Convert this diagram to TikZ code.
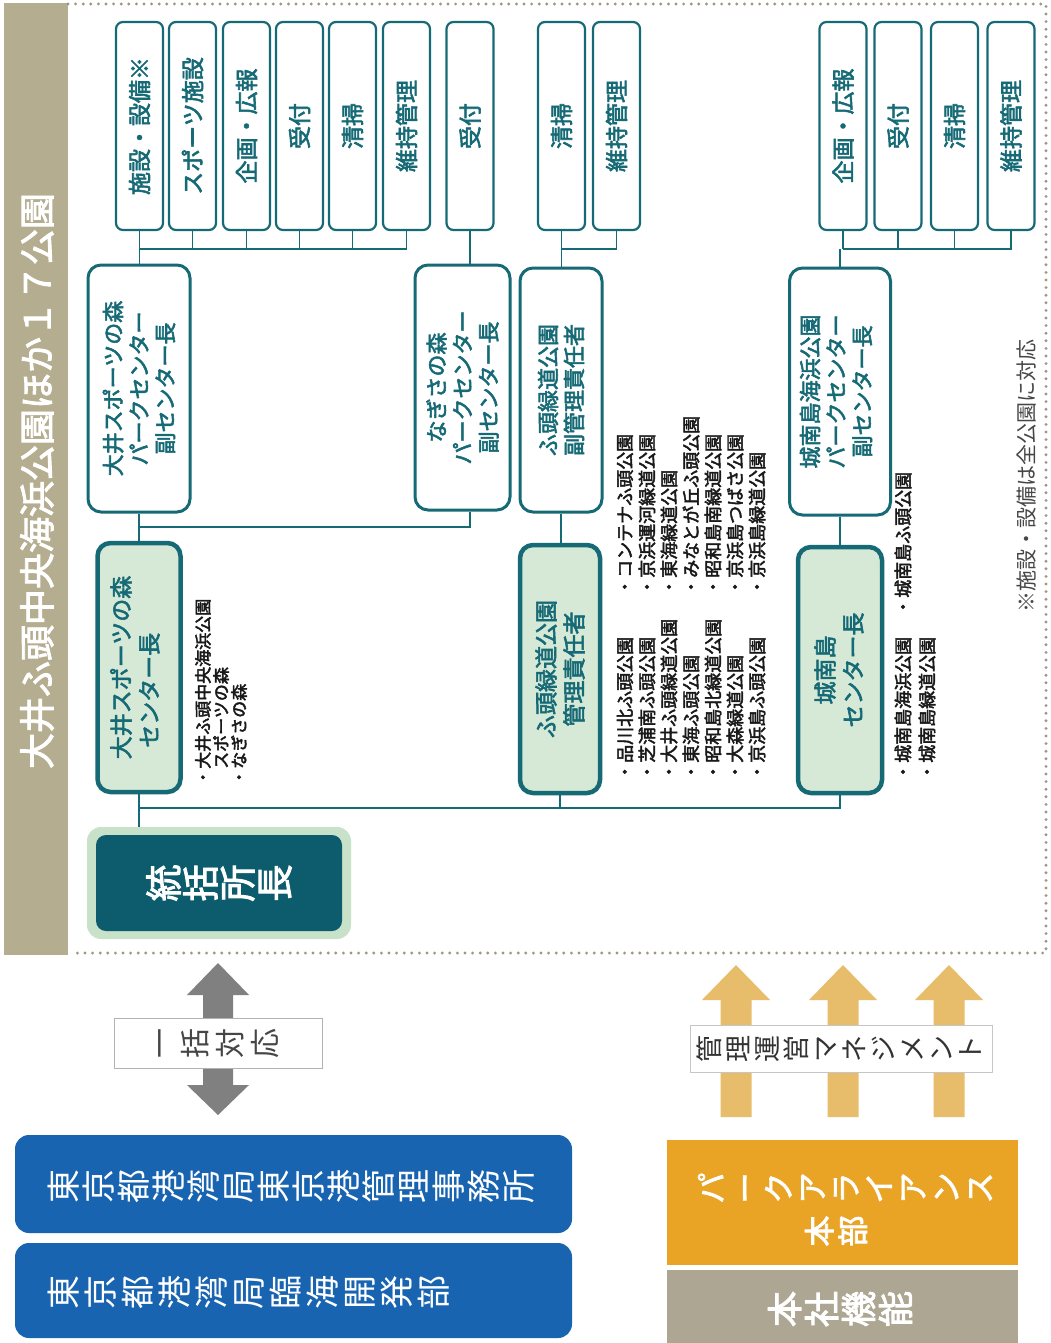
\documentclass[tikz,border=0pt]{standalone}
\usepackage{fontspec}
\setmainfont{Noto Sans CJK JP}[AutoFakeBold=2.5]
\usetikzlibrary{backgrounds}
\definecolor{tealc}{RGB}{22,106,118}
\definecolor{greenc}{RGB}{214,233,215}
\definecolor{darkt}{RGB}{12,92,110}
\definecolor{glowc}{RGB}{200,226,202}
\definecolor{bandc}{RGB}{181,173,144}
\definecolor{dotc}{RGB}{158,150,128}
\definecolor{bluec}{RGB}{24,100,176}
\definecolor{orangec}{RGB}{233,164,38}
\definecolor{arrowc}{RGB}{231,189,108}
\definecolor{grayboxc}{RGB}{172,166,146}
\definecolor{grayarr}{RGB}{128,128,128}
\definecolor{notec}{RGB}{70,70,70}
\newcommand\fsz[2]{\fontsize{#1}{#2}\selectfont}
\begin{document}
\begin{tikzpicture}[x=1pt,y=-1pt,
  topbox/.style={draw=tealc, line width=2.2pt, fill=white, rounded corners=7pt, minimum width=47pt, minimum height=208pt, inner sep=0pt},
  midbox/.style={draw=tealc, line width=3pt, fill=white, rounded corners=13pt, inner sep=0pt},
  greenbox/.style={draw=tealc, line width=4.5pt, fill=greenc, rounded corners=13pt, inner sep=0pt},
  toplbl/.style={rotate=90, text=tealc, font=\bfseries\fsz{23}{26}, align=center, inner sep=0pt},
  boxlbl/.style={rotate=90, text=tealc, font=\bfseries\fsz{22}{26}, align=center, inner sep=0pt},
  greenlbl/.style={rotate=90, text=tealc, font=\bfseries\fsz{23}{28}, align=center, inner sep=0pt},
  link/.style={draw=tealc, line width=1.8pt},
  listline/.style={rotate=90, anchor=west, inner sep=0pt, font=\bfseries\fsz{18}{18}, text=black!90},
  vst/.style={rotate=90, align=center, inner sep=0pt},
  dotline/.style={draw=dotc, line width=3.2pt, line cap=round, dash pattern=on 0pt off 7.6pt},
]
\useasboundingbox (0,0) rectangle (1050,1343);

% ---- top frame
\fill[bandc] (4,3) rectangle (68,955);
\node[rotate=90, inner sep=0pt, text=white, font=\bfseries\fsz{36}{40}] (title) at (37,481) {大井ふ頭中央海浜公園ほか１７公園};

% ---- row 1
\foreach \nm/\x/\t in {t1/139.5/施設・設備※, t2/192.5/スポーツ施設, t3/246.5/企画・広報, t4/299.5/受付, t5/352.5/清掃, t6/406.5/維持管理, t7/470/受付, t8/561.5/清掃, t9/616.5/維持管理, t10/843/企画・広報, t11/898/受付, t12/954.5/清掃, t13/1011/維持管理}{
  \node[topbox] (\nm) at (\x,126) {};
  \node[toplbl] (\nm-lbl) at (\nm) {\t};
}

% ---- row 2
\node[midbox, minimum width=102pt, minimum height=247pt] (A) at (139,388.5) {};
\node[boxlbl] (A-lbl) at (A) {大井スポーツの森\\パークセンター\\副センター長};
\node[midbox, minimum width=95pt, minimum height=245pt] (B) at (462.5,387.5) {};
\node[boxlbl] (B-lbl) at (B) {なぎさの森\\パークセンター\\副センター長};
\node[midbox, minimum width=82pt, minimum height=244pt] (C) at (561,390) {};
\node[boxlbl] (C-lbl) at (C) {ふ頭緑道公園\\副管理責任者};
\node[midbox, minimum width=101pt, minimum height=247pt] (D) at (840,391.5) {};
\node[boxlbl] (D-lbl) at ([xshift=-4pt]D.center) {城南島海浜公園\\パークセンター\\副センター長};

% ---- row 3
\node[greenbox, minimum width=83pt, minimum height=249pt] (G1) at (139,667.5) {};
\node[greenlbl, align=left] (G1-lbl) at ([xshift=-4pt]G1.center) {大井スポーツの森\\\hspace{0.5em}センター長};
\node[greenbox, minimum width=80pt, minimum height=248pt] (G2) at (560,669) {};
\node[greenlbl] (G2-lbl) at (G2) {ふ頭緑道公園\\管理責任者};
\node[greenbox, minimum width=84pt, minimum height=246pt] (G3) at (840,670) {};
\node[greenlbl] (G3-lbl) at ([xshift=-1pt]G3.center) {城南島\\センター長};

% ---- lists
\node[listline, font=\bfseries\fsz{17}{17}] (oi1) at (203,786) {・大井ふ頭中央海浜公園};
\node[listline, font=\bfseries\fsz{17}{17}] (oi2) at (221,786) {\hphantom{・}スポーツの森};
\node[listline, font=\bfseries\fsz{17}{17}] (oi3) at (239,786) {・なぎさの森};
\foreach \nm/\x/\t in {fa/625/品川北ふ頭公園, fb/647/芝浦南ふ頭公園, fc/669/大井ふ頭緑道公園, fd/691/東海ふ頭公園, fe/713/昭和島北緑道公園, ff/735/大森緑道公園, fg/757/京浜島ふ頭公園}{
  \node[listline] (\nm) at (\x,781) {・\t};
}
\foreach \nm/\x/\t in {ua/625/コンテナふ頭公園, ub/647/京浜運河緑道公園, uc/669/東海緑道公園, ud/691/みなとが丘ふ頭公園, ue/713/昭和島南緑道公園, uf/735/京浜島つばさ公園, ug/757/京浜島緑道公園}{
  \node[listline] (\nm) at (\x,596) {・\t};
}
\node[listline] (ja) at (903,781) {・城南島海浜公園};
\node[listline] (jb) at (927,781) {・城南島緑道公園};
\node[listline] (jc) at (903,616) {・城南島ふ頭公園};

\node[rotate=90, inner sep=0pt, text=notec, font=\fsz{21}{24}] (note) at (1027,476) {※施設・設備は全公園に対応};

% ---- general manager
\node[fill=glowc, rounded corners=14pt, minimum width=264pt, minimum height=112pt, inner sep=0pt] (Tg) at (219,883) {};
\node[fill=darkt, rounded corners=10pt, minimum width=246pt, minimum height=96pt, inner sep=0pt] (T) at (219,883) {};
\node[vst, text=white, font=\bfseries\fsz{37}{37}] (T-lbl) at (T) {統\\括\\所\\長};

% ---- connectors (behind boxes)
\begin{scope}[on background layer]
\fill[white] (0,0) rectangle (1050,1343);
\coordinate (busTop) at (0,249);
\coordinate (abY) at (0,527);
\coordinate (mainY) at (0,808);
\draw[link] (t1.south) -- (t1.south |- A.north);
\draw[link] (t1.south |- busTop) -| (t6.south);
\foreach \n in {t2,t3,t4,t5} \draw[link] (\n.south) -- (\n.south |- busTop);
\draw[link] (t7.south) -- (t7.south |- B.north);
\draw[link] (t8.south) -- (t8.south |- C.north);
\draw[link] (t8.south |- busTop) -| (t9.south);
\draw[link] (t10.south |- busTop) -| (t13.south);
\foreach \n in {t10,t11,t12} \draw[link] (\n.south) -- (\n.south |- busTop);
\draw[link] (D.north) -- (D.north |- busTop);
\draw[link] (A.south) -- (A.south |- G1.north);
\draw[link] (A.south |- abY) -| (t7.south |- B.south);
\draw[link] (C.south) -- (C.south |- G2.north);
\draw[link] (D.south) -- (G3.north);
\draw[link] (G1.south) -- (G1.south |- Tg.north);
\draw[link] (G1.south |- mainY) -| (G3.south);
\draw[link] (G2.south) -- (G2.south |- mainY);
\end{scope}

\draw[dotline] (68,4) -- (1046,4) -- (1046,953) -- (72,953);

% ---- bottom left
\fill[grayarr] (218,963) -- (249,995) -- (233,995) -- (233,1085) -- (249,1085) -- (218,1115) -- (187,1085) -- (203,1085) -- (203,995) -- (187,995) -- cycle;
\node[draw=gray!60, line width=1pt, fill=white, minimum width=208pt, minimum height=50pt, inner sep=0pt] (ikk) at (218,1043) {};
\node[vst, text=notec, font=\fsz{30}{35}] (ikk-lbl) at (219,1043) {一\\括\\対\\応};

\node[fill=bluec, rounded corners=14pt, minimum width=557pt, minimum height=98pt, inner sep=0pt] (bl1) at (293.5,1184) {};
\node[vst, anchor=north, text=white, font=\fsz{34}{35}] (bl1-lbl) at (48,1186) {東\\京\\都\\港\\湾\\局\\東\\京\\港\\管\\理\\事\\務\\所};
\node[fill=bluec, rounded corners=14pt, minimum width=557pt, minimum height=95pt, inner sep=0pt] (bl2) at (293.5,1290.5) {};
\node[vst, anchor=north, text=white, font=\fsz{34}{37}] (bl2-lbl) at (48,1292) {東\\京\\都\\港\\湾\\局\\臨\\海\\開\\発\\部};

% ---- bottom right
\foreach \cx in {736,843,949}{
  \fill[arrowc] (\cx-15.5,1117) -- (\cx-15.5,1000) -- (\cx-34,1000) -- (\cx,965) -- (\cx+34,1000) -- (\cx+15.5,1000) -- (\cx+15.5,1117) -- cycle;
}
\node[draw=gray!45, line width=1pt, fill=white, minimum width=302pt, minimum height=47pt, inner sep=0pt] (mg) at (841,1048.5) {};
\node[vst, text=black!80, font=\fsz{27}{29}] (mg-lbl) at (839,1048.5) {管\\理\\運\\営\\マ\\ネ\\ジ\\メ\\ン\\ト};

\node[fill=orangec, minimum width=351pt, minimum height=125pt, inner sep=0pt] (pa) at (842.5,1202.5) {};
\node[vst, text=white, font=\bfseries\fsz{31}{33.5}] (pa-lbl1) at (845,1188) {パ\\ー\\ク\\ア\\ラ\\イ\\ア\\ン\\ス};
\node[vst, text=white, font=\bfseries\fsz{31}{33.5}] (pa-lbl2) at (836,1231) {本\\部};
\node[fill=grayboxc, minimum width=351pt, minimum height=73pt, inner sep=0pt] (hs) at (842.5,1306.5) {};
\node[vst, text=white, font=\bfseries\fsz{36}{37}] (hs-lbl) at (840,1309) {本\\社\\機\\能};
\end{tikzpicture}
\end{document}
